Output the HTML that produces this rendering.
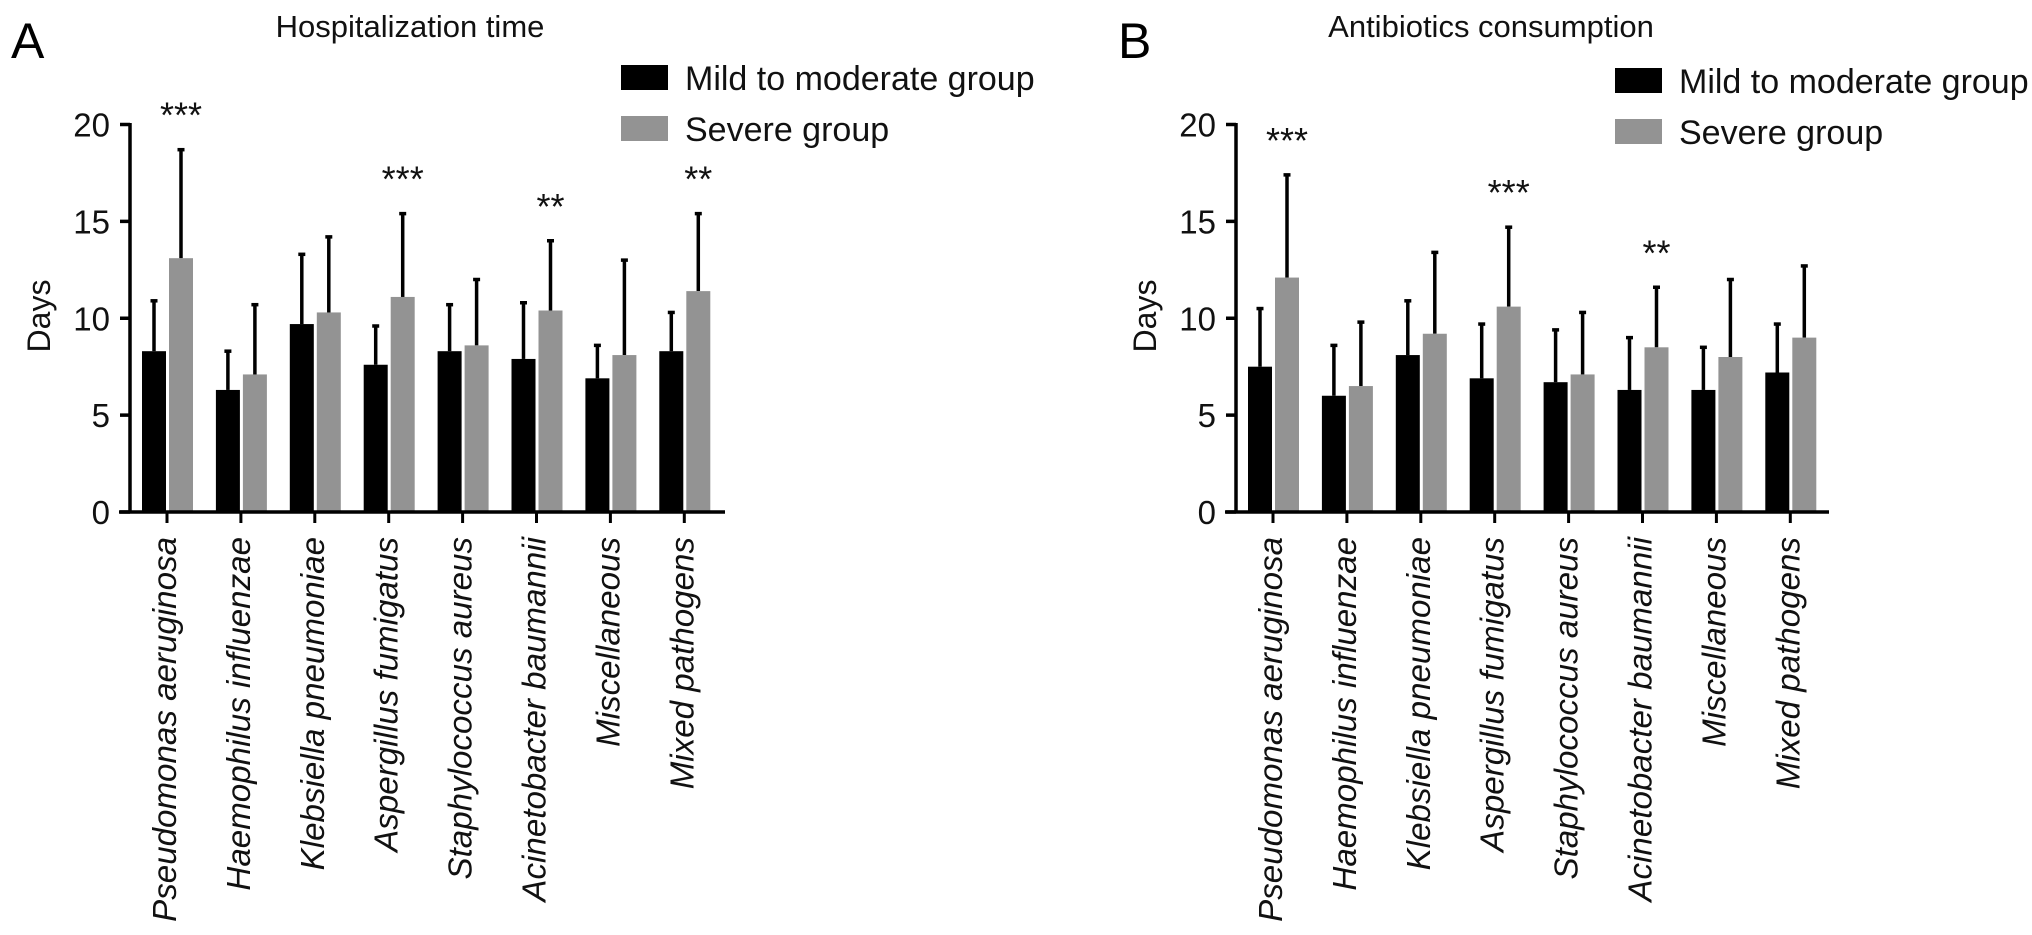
<!DOCTYPE html>
<html><head><meta charset="utf-8">
<style>
html,body{margin:0;padding:0;background:#fff;}
svg{display:block;font-family:"Liberation Sans",Arial,sans-serif;}
</style></head>
<body>
<svg id="fig" width="2032" height="935" viewBox="0 0 2032 935"></svg>
<script>
const categories = ["Pseudomonas aeruginosa","Haemophilus influenzae","Klebsiella pneumoniae","Aspergillus fumigatus","Staphylococcus aureus","Acinetobacter baumannii","Miscellaneous","Mixed pathogens"];
const yTicks = [0,5,10,15,20];
const hospMild = [8.3,6.3,9.7,7.6,8.3,7.9,6.9,8.3];
const hospMildErr = [10.9,8.3,13.3,9.6,10.7,10.8,8.6,10.3];
const hospSevere = [13.1,7.1,10.3,11.1,8.6,10.4,8.1,11.4];
const hospSevereErr = [18.7,10.7,14.2,15.4,12.0,14.0,13.0,15.4];
const hospStars = ["***","","","***","","**","","**"];
const abxMild = [7.5,6.0,8.1,6.9,6.7,6.3,6.3,7.2];
const abxMildErr = [10.5,8.6,10.9,9.7,9.4,9.0,8.5,9.7];
const abxSevere = [12.1,6.5,9.2,10.6,7.1,8.5,8.0,9.0];
const abxSevereErr = [17.4,9.8,13.4,14.7,10.3,11.6,12.0,12.7];
const abxStars = ["***","","","***","","**","",""];

const NS="http://www.w3.org/2000/svg";
const svg=document.getElementById('fig');
function mk(tag,attrs,parent){const e=document.createElementNS(NS,tag);for(const k in attrs)e.setAttribute(k,attrs[k]);(parent||svg).appendChild(e);return e;}

function panel(cfg){
  const g=mk('g',{});
  
  
  const x0=cfg.axisX, y0=512, yTop=124.5, step=73.9;
  const yS=v=>y0-(v/20)*(y0-yTop);
  const xS=i=>cfg.firstTick+i*step;
  const L=mk('text',{x:cfg.letterX,y:58,'font-size':50,fill:'#000'},g);L.textContent=cfg.letter;
  
  
  const T=mk('text',{x:cfg.titleX,y:37,'font-size':31,'text-anchor':'middle',fill:'#111'},g);T.textContent=cfg.title;
  
  
  const bw=24;
  for(let i=0;i<categories.length;i++){
    const cx=xS(i);
    const bx=cx-13, gx=cx+14;
    const e1=mk('line',{x1:bx,x2:bx,y1:yS(cfg.mild[i]),y2:yS(cfg.mildErr[i]),stroke:'#000','stroke-width':3.5},g);
    
    
    const c1=mk('line',{x1:bx-3.5,x2:bx+3.5,y1:yS(cfg.mildErr[i]),y2:yS(cfg.mildErr[i]),stroke:'#000','stroke-width':3.5},g);
    
    
    const r1=mk('rect',{x:bx-bw/2,y:yS(cfg.mild[i]),width:bw,height:y0-yS(cfg.mild[i]),fill:'#000'},g);
    
    
    const e2=mk('line',{x1:gx,x2:gx,y1:yS(cfg.sev[i]),y2:yS(cfg.sevErr[i]),stroke:'#000','stroke-width':3.5},g);
    
    
    const c2=mk('line',{x1:gx-3.5,x2:gx+3.5,y1:yS(cfg.sevErr[i]),y2:yS(cfg.sevErr[i]),stroke:'#000','stroke-width':3.5},g);
    
    
    const r2=mk('rect',{x:gx-bw/2,y:yS(cfg.sev[i]),width:bw,height:y0-yS(cfg.sev[i]),fill:'#939393'},g);
    
    
    if(cfg.stars[i]){
      const s=mk('text',{x:gx,y:yS(cfg.sevErr[i])-22,'font-size':36,'text-anchor':'middle',fill:'#111'},g);
      s.textContent=cfg.stars[i];
      
      
    }
    const tk=mk('line',{x1:cx,x2:cx,y1:y0,y2:y0+11,stroke:'#000','stroke-width':3},g);
    
    
    const lb=mk('text',{x:0,y:0,'font-size':30,'font-style':'italic','text-anchor':'end',fill:'#111',transform:`translate(${cx+9},537) rotate(-90)`,class:'catlab'},g);
    lb.textContent=categories[i];
    
    
  }
  const ya=mk('line',{x1:x0,x2:x0,y1:yTop-1.5,y2:y0+1.5,stroke:'#000','stroke-width':3.5},g);
  
  
  const xa=mk('line',{x1:x0-11,x2:cfg.axisEnd,y1:y0,y2:y0,stroke:'#000','stroke-width':3.5},g);
  
  
  yTicks.forEach(v=>{
    const t=mk('line',{x1:x0-10,x2:x0,y1:yS(v),y2:yS(v),stroke:'#000','stroke-width':3.5},g);
    
    
    const tl=mk('text',{x:x0-20,y:yS(v)+12,'font-size':33,'text-anchor':'end',fill:'#111'},g);
    tl.textContent=v;
    
    
  });
  const yt=mk('text',{x:0,y:0,'font-size':32,'text-anchor':'middle',fill:'#111',transform:`translate(${x0-80},316) rotate(-90)`},g);
  yt.textContent='Days';
  
  
  const lg=mk('g',{},g);
  
  
  [['Mild to moderate group','#000',cfg.legY],['Severe group','#939393',cfg.legY+51]].forEach(([t,c,y])=>{
    const r=mk('rect',{x:cfg.legX,y:y,width:47,height:25,fill:c},lg);
    
    
    const tx=mk('text',{x:cfg.legX+64,y:y+25,'font-size':34,fill:'#111'},lg);
    tx.textContent=t;
    
    
  });
}
panel({name:'panel-a-hospitalization',letter:'A',letterX:11,title:'Hospitalization time',titleX:410,axisX:130,firstTick:167,axisEnd:725,
  mild:hospMild,mildErr:hospMildErr,sev:hospSevere,sevErr:hospSevereErr,stars:hospStars,legX:621,legY:65});
panel({name:'panel-b-antibiotics',letter:'B',letterX:1118,title:'Antibiotics consumption',titleX:1491,axisX:1236,firstTick:1273,axisEnd:1829,
  mild:abxMild,mildErr:abxMildErr,sev:abxSevere,sevErr:abxSevereErr,stars:abxStars,legX:1615,legY:68});
const labs=document.querySelectorAll('.catlab');
const w=labs[0].getComputedTextLength();
if(w>0){const fs=30*385/w;labs.forEach(l=>l.setAttribute('font-size',fs.toFixed(2)));}
</script>
</body></html>
